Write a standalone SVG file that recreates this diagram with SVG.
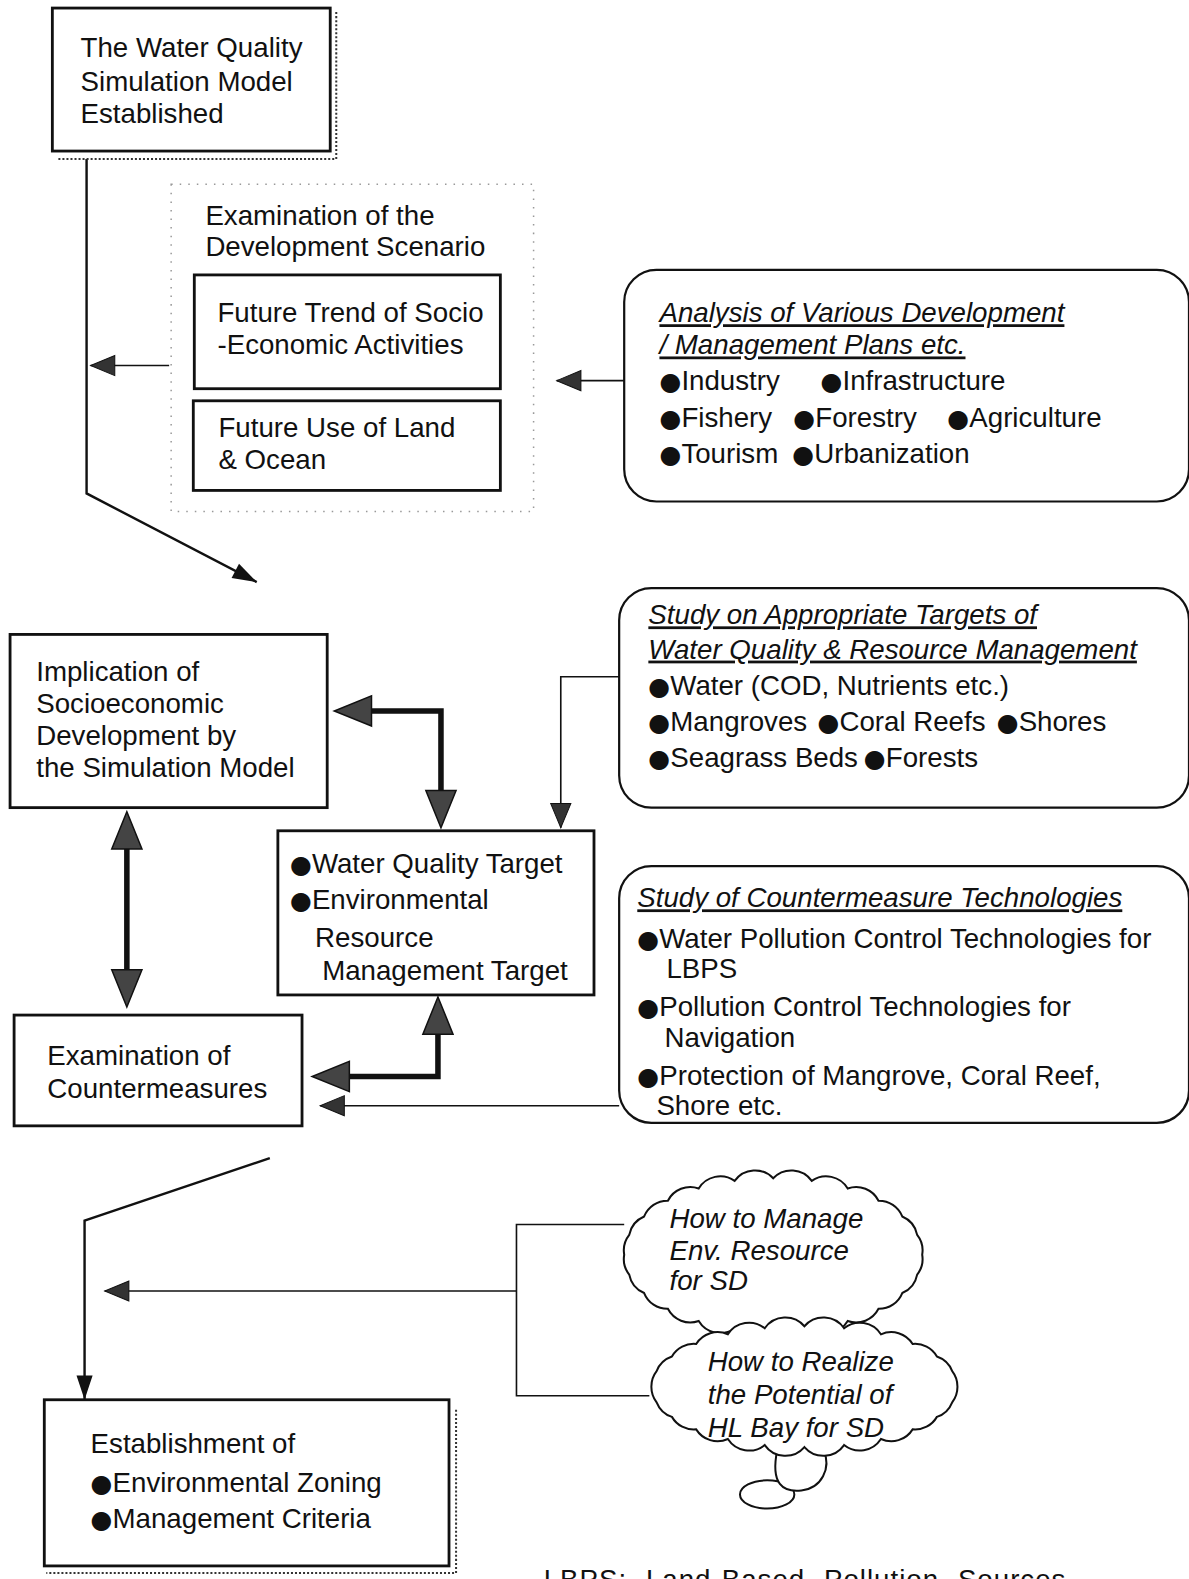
<svg xmlns="http://www.w3.org/2000/svg" width="1189" height="1579" viewBox="0 0 1189 1579">
<style>
text{font-family:"Liberation Sans","DejaVu Sans",Arial,sans-serif;font-size:27.5px;fill:#111}
.it{font-style:italic}
.u{text-decoration:underline}
.b{font-family:"DejaVu Sans",sans-serif;font-size:25px}
.box{fill:#fff;stroke:#111;stroke-width:2.8}
.rbox{fill:#fff;stroke:#111;stroke-width:2.2}
.shadow{fill:none;stroke:#333;stroke-width:2;stroke-dasharray:2 2}
.frame{fill:none;stroke:#999;stroke-width:1.5;stroke-dasharray:1.5 7}
.thin{fill:none;stroke:#111;stroke-width:1.6}
.med{fill:none;stroke:#111;stroke-width:2.4}
.thick{fill:none;stroke:#111;stroke-width:5.5}
.cloud{fill:#fff;stroke:#111;stroke-width:2}
</style>
<defs>
<marker id="big" markerUnits="userSpaceOnUse" markerWidth="40" markerHeight="34" refX="0" refY="15" orient="auto-start-reverse" overflow="visible">
<path d="M0,0 L37,15 L0,30 Z" fill="#444" stroke="#111" stroke-width="1.5"/>
</marker>
<marker id="blk" markerUnits="userSpaceOnUse" markerWidth="26" markerHeight="18" refX="24" refY="8" orient="auto" overflow="visible">
<path d="M0,0 L24,8 L0,16 Z" fill="#111"/>
</marker>
<marker id="sm" markerUnits="userSpaceOnUse" markerWidth="26" markerHeight="22" refX="24" refY="10" orient="auto" overflow="visible">
<path d="M0,0 L24,10 L0,20 Z" fill="#333" stroke="#111" stroke-width="1"/>
</marker>
</defs>
<g transform="scale(1.00677,1.00702)">

<g id="connectors">
<path class="med" d="M86,158 L86,490 L255,578" marker-end="url(#blk)"/>
<path class="thin" d="M168,363 L90,363" marker-end="url(#sm)"/>
<path class="thin" d="M620,378 L553,378" marker-end="url(#sm)"/>
<path class="thick" d="M369,706 L438,706 L438,785" marker-start="url(#big)" marker-end="url(#big)"/>
<path class="thick" d="M126,843 L126,963" marker-start="url(#big)" marker-end="url(#big)"/>
<path class="thick" d="M435,1027 L435,1069 L347,1069" marker-start="url(#big)" marker-end="url(#big)"/>
<path class="thin" d="M615,672 L557,672 L557,822" marker-end="url(#sm)"/>
<path class="thin" d="M615,1098 L318,1098" marker-end="url(#sm)"/>
<path class="med" d="M268,1150 L84,1212 L84,1390" marker-end="url(#blk)"/>
<path class="thin" d="M620,1216 L513,1216 L513,1386 L645,1386"/>
<path class="thin" d="M513,1282 L104,1282" marker-end="url(#sm)"/>
</g>

<g id="n-model">
<path class="shadow" d="M334,12 L334,158 L56,158"/>
<rect class="box" x="52" y="8" width="276" height="142"/>
<text x="80" y="57">The Water Quality</text>
<text x="80" y="90">Simulation Model</text>
<text x="80" y="122">Established</text>
</g>

<g id="n-scenario">
<rect class="frame" x="170" y="183" width="360" height="325"/>
<text x="204" y="223">Examination of the</text>
<text x="204" y="254">Development Scenario</text>
</g>

<g id="n-trend">
<rect class="box" x="193" y="273" width="304" height="113"/>
<text x="216" y="320">Future Trend of Socio</text>
<text x="216" y="352">-Economic Activities</text>
</g>

<g id="n-landuse">
<rect class="box" x="192" y="398" width="305" height="89"/>
<text x="217" y="434">Future Use of Land</text>
<text x="217" y="466">&amp;  Ocean</text>
</g>

<g id="n-analysis">
<rect class="rbox" x="620" y="268" width="561" height="230" rx="32"/>
<text x="655" y="320" class="it u">Analysis of Various Development</text>
<text x="655" y="352" class="it u">/ Management Plans etc.</text>
<text y="387"><tspan x="655"><tspan class="b">●</tspan>Industry</tspan><tspan x="815"><tspan class="b">●</tspan>Infrastructure</tspan></text>
<text y="424"><tspan x="655"><tspan class="b">●</tspan>Fishery</tspan><tspan x="788"><tspan class="b">●</tspan>Forestry</tspan><tspan x="941"><tspan class="b">●</tspan>Agriculture</tspan></text>
<text y="460"><tspan x="655"><tspan class="b">●</tspan>Tourism</tspan><tspan x="787"><tspan class="b">●</tspan>Urbanization</tspan></text>
</g>

<g id="n-implication">
<rect class="box" x="10" y="630" width="315" height="172"/>
<text x="36" y="676">Implication of</text>
<text x="36" y="708">Socioeconomic</text>
<text x="36" y="740">Development by</text>
<text x="36" y="772">the Simulation Model</text>
</g>

<g id="n-target">
<rect class="box" x="276" y="825" width="314" height="163"/>
<text x="288" y="867"><tspan class="b">●</tspan>Water Quality Target</text>
<text x="288" y="903"><tspan class="b">●</tspan>Environmental</text>
<text x="313" y="940">Resource</text>
<text x="320" y="973">Management Target</text>
</g>

<g id="n-study-targets">
<rect class="rbox" x="615" y="584" width="566" height="218" rx="32"/>
<text x="644" y="620" class="it u">Study on Appropriate Targets of</text>
<text x="644" y="654" class="it u">Water Quality &amp; Resource Management</text>
<text x="644" y="690"><tspan class="b">●</tspan>Water (COD, Nutrients etc.)</text>
<text y="726"><tspan x="644"><tspan class="b">●</tspan>Mangroves</tspan><tspan x="812"><tspan class="b">●</tspan>Coral Reefs</tspan><tspan x="990"><tspan class="b">●</tspan>Shores</tspan></text>
<text y="762"><tspan x="644"><tspan class="b">●</tspan>Seagrass Beds</tspan><tspan x="858"><tspan class="b">●</tspan>Forests</tspan></text>
</g>

<g id="n-countermeasures">
<rect class="box" x="14" y="1008" width="286" height="110"/>
<text x="47" y="1058">Examination of</text>
<text x="47" y="1090">Countermeasures</text>
</g>

<g id="n-technologies">
<rect class="rbox" x="615" y="860" width="566" height="255" rx="32"/>
<text x="633" y="901" class="it u">Study of Countermeasure Technologies</text>
<text x="633" y="941"><tspan class="b">●</tspan>Water Pollution Control Technologies for</text>
<text x="662" y="971">LBPS</text>
<text x="633" y="1009"><tspan class="b">●</tspan>Pollution Control Technologies for</text>
<text x="660" y="1040">Navigation</text>
<text x="633" y="1077"><tspan class="b">●</tspan>Protection of Mangrove, Coral Reef,</text>
<text x="652" y="1107">Shore etc.</text>
</g>

<g id="n-cloud-manage">
<path class="cloud" d="M916,1246 A25,25 0 0 1 911,1265.7 A25,25 0 0 1 896.2,1284 A25,25 0 0 1 872.6,1299.7 A25,25 0 0 1 842,1311.8 A25,25 0 0 1 806.3,1319.4 A25,25 0 0 1 768,1322 A25,25 0 0 1 729.7,1319.4 A25,25 0 0 1 694,1311.8 A25,25 0 0 1 663.4,1299.7 A25,25 0 0 1 639.8,1284 A25,25 0 0 1 625,1265.7 A25,25 0 0 1 620,1246 A25,25 0 0 1 625,1226.3 A25,25 0 0 1 639.8,1208 A25,25 0 0 1 663.4,1192.3 A25,25 0 0 1 694,1180.2 A25,25 0 0 1 729.7,1172.6 A25,25 0 0 1 768,1170 A25,25 0 0 1 806.3,1172.6 A25,25 0 0 1 842,1180.2 A25,25 0 0 1 872.6,1192.3 A25,25 0 0 1 896.2,1208 A25,25 0 0 1 911,1226.3 A25,25 0 0 1 916,1246 Z"/>
<text x="665" y="1219" class="it">How to Manage</text>
<text x="665" y="1251" class="it">Env. Resource</text>
<text x="665" y="1281" class="it">for SD</text>
</g>

<g id="n-cloud-realize">
<ellipse class="cloud" cx="762" cy="1484" rx="27" ry="14"/>
<path class="cloud" d="M772,1440 C765,1474 778,1482 796,1480 C816,1478 826,1458 818,1440"/>
<path class="cloud" d="M951,1377 A25,25 0 0 1 945.8,1392.5 A25,25 0 0 1 930.6,1407 A25,25 0 0 1 906.5,1419.4 A25,25 0 0 1 875,1429 A25,25 0 0 1 838.4,1435 A25,25 0 0 1 799,1437 A25,25 0 0 1 759.6,1435 A25,25 0 0 1 723,1429 A25,25 0 0 1 691.5,1419.4 A25,25 0 0 1 667.4,1407 A25,25 0 0 1 652.2,1392.5 A25,25 0 0 1 647,1377 A25,25 0 0 1 652.2,1361.5 A25,25 0 0 1 667.4,1347 A25,25 0 0 1 691.5,1334.6 A25,25 0 0 1 723,1325 A25,25 0 0 1 759.6,1319 A25,25 0 0 1 799,1317 A25,25 0 0 1 838.4,1319 A25,25 0 0 1 875,1325 A25,25 0 0 1 906.5,1334.6 A25,25 0 0 1 930.6,1347 A25,25 0 0 1 945.8,1361.5 A25,25 0 0 1 951,1377 Z"/>
<text x="703" y="1361" class="it">How to Realize</text>
<text x="703" y="1394" class="it">the Potential of</text>
<text x="703" y="1427" class="it">HL Bay for SD</text>
</g>

<g id="n-establishment">
<path class="shadow" d="M453,1400 L453,1562 L46,1562"/>
<rect class="box" x="44" y="1390" width="402" height="165"/>
<text x="90" y="1443">Establishment of</text>
<text x="90" y="1482"><tspan class="b">●</tspan>Environmental Zoning</text>
<text x="90" y="1517"><tspan class="b">●</tspan>Management Criteria</text>
</g>

<text x="540" y="1578" letter-spacing="1" word-spacing="10">LBPS: Land-Based Pollution Sources</text>
</g>
</svg>
